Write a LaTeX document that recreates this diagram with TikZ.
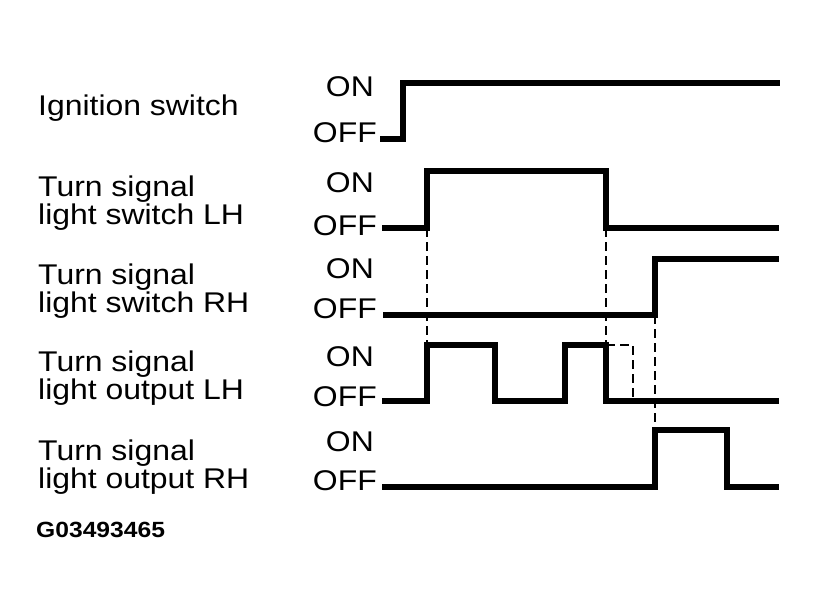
\documentclass[tikz,border=0pt]{standalone}
\usepackage{fontspec}
\setmainfont{Liberation Sans}[FakeStretch=1.12]
\newfontfamily\codefont{Liberation Sans}[FakeStretch=1.12]
\usetikzlibrary{positioning}

\begin{document}
\begin{tikzpicture}[
  x=1pt, y=-1pt,
  wave/.style={line width=6pt},
  guide/.style={line width=2.4pt,dash pattern=on 9pt off 5pt},
  lbl/.style={anchor=base west,inner sep=0pt,align=left,font=\fontsize{28.5}{28}\selectfont},
  state/.style={anchor=base east,inner sep=0pt,font=\fontsize{28.5}{28}\selectfont}
]
\useasboundingbox (0,0) rectangle (818,614);

% signal names
\node[lbl] (ign) at (38,115) {Ignition switch};
\node[lbl] (lsw) at (38,224) {Turn signal\\light switch LH};
\node[lbl] (rsw) at (38,312) {Turn signal\\light switch RH};
\node[lbl] (lout) at (38,399) {Turn signal\\light output LH};
\node[lbl] (rout) at (38,488) {Turn signal\\light output RH};
\node[anchor=base west,inner sep=0pt,font=\codefont\bfseries\fontsize{22}{24}\selectfont] (code) at (36,537) {G03493465};

% levels
\node[state] (ign on) at (374,96) {ON};
\node[state] (ign off) at (377,142) {OFF};
\node[state] (lsw on) at (374,192) {ON};
\node[state] (lsw off) at (377,235) {OFF};
\node[state] (rsw on) at (374,278) {ON};
\node[state] (rsw off) at (377,318) {OFF};
\node[state] (lout on) at (374,366) {ON};
\node[state] (lout off) at (377,406) {OFF};
\node[state] (rout on) at (374,451) {ON};
\node[state] (rout off) at (377,490) {OFF};

% waveforms
\draw[wave] (380,139) -- (403,139) -- (403,83) -- (780,83);
\draw[wave] (382,228) -- (427,228) coordinate (lsw up) -- (427,171) -- (606,171)
  -- (606,228) coordinate (lsw down) -- (779,228);
\draw[wave] (383,315) -- (655,315) coordinate (rsw up) -- (655,259) -- (779,259);
\draw[wave] (382,401) -- (427,401) -- (427,345) coordinate (lout up) -- (495,345)
  -- (495,401) -- (565,401) -- (565,345) -- (606,345) coordinate (lout down)
  -- (606,401) -- (779,401);
\draw[wave] (382,487) -- (655,487) -- (655,430) coordinate (rout up) -- (727,430)
  -- (727,487) -- (779,487);
\coordinate (lout off2) at (633,398);

% timing guides
\draw[guide] (lsw up) -- (lout up);
\draw[guide] (lsw down) -- (lout down);
\draw[guide] (lout down) -| (lout off2);
\draw[guide] (rsw up) -- (rout up);

\end{tikzpicture}
\end{document}
